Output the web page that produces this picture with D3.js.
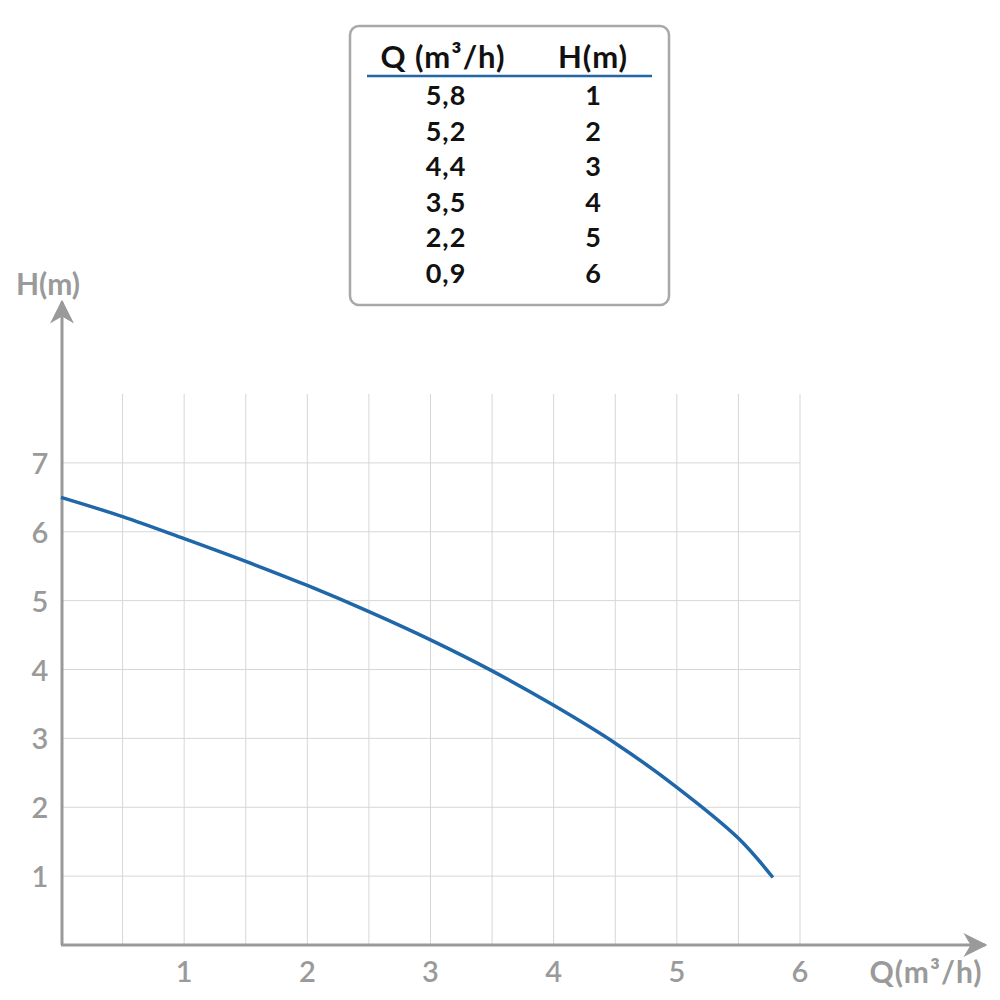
<!DOCTYPE html>
<html><head><meta charset="utf-8">
<script src="https://cdn.jsdelivr.net/npm/d3@7"></script>
<style>body{margin:0;background:#fff}</style></head>
<body><svg id="c" width="1000" height="1000"></svg>
<script>
const curveQ = [0, 0.5, 1, 1.5, 2, 2.5, 3, 3.5, 4, 4.5, 5, 5.5, 5.78];
const curveH = [6.5, 6.22, 5.9, 5.57, 5.22, 4.84, 4.43, 3.98, 3.48, 2.93, 2.29, 1.55, 0.98];
const tableQ = ["5,8","5,2","4,4","3,5","2,2","0,9"];
const tableH = ["1","2","3","4","5","6"];
const xTicks = [1,2,3,4,5,6];
const yTicks = [1,2,3,4,5,6,7];

const svg = d3.select("#c");
const x = d3.scaleLinear().domain([0,6]).range([61,800]);
const y = d3.scaleLinear().domain([0,8]).range([945,394]);
const font = "Lato, 'DejaVu Sans', sans-serif";
const grey = "#9a9a9a";

const vg = d3.range(0.5,6.01,0.5);
svg.append("g").selectAll("line").data(vg).join("line")
 .attr("x1",d=>x(d)).attr("x2",d=>x(d)).attr("y1",y(8)).attr("y2",y(0))
 .attr("stroke","#d6d6d6").attr("stroke-width",1);
svg.append("g").selectAll("line").data(yTicks).join("line")
 .attr("x1",x(0)).attr("x2",x(6)).attr("y1",d=>y(d)).attr("y2",d=>y(d))
 .attr("stroke","#d6d6d6").attr("stroke-width",1);

const defs = svg.append("defs");
defs.append("marker").attr("id","ar").attr("viewBox","0 0 10 10").attr("refX",9).attr("refY",5)
 .attr("markerWidth",24).attr("markerHeight",24).attr("markerUnits","userSpaceOnUse").attr("orient","auto")
 .append("path").attr("d","M0,0 L10,5 L0,10 L3,5 Z").attr("fill",grey);
svg.append("line").attr("x1",x(0)).attr("y1",y(0)).attr("x2",985).attr("y2",y(0))
 .attr("stroke",grey).attr("stroke-width",3).attr("marker-end","url(#ar)");
svg.append("line").attr("x1",x(0)+1).attr("y1",y(0)).attr("x2",x(0)+1).attr("y2",302)
 .attr("stroke",grey).attr("stroke-width",3).attr("marker-end","url(#ar)");

svg.append("g").selectAll("text").data(xTicks).join("text")
 .attr("x",d=>x(d)).attr("y",982).attr("text-anchor","middle")
 .attr("font-family",font).attr("font-size",29).attr("font-weight",600).attr("fill",grey).text(d=>d);
svg.append("g").selectAll("text").data(yTicks).join("text")
 .attr("x",40).attr("y",d=>y(d)+11).attr("text-anchor","middle")
 .attr("font-family",font).attr("font-size",29).attr("font-weight",600).attr("fill",grey).text(d=>d);
svg.append("text").attr("x",48).attr("y",295).attr("text-anchor","middle")
 .attr("font-family",font).attr("font-size",30).attr("font-weight","bold").attr("fill",grey).text("H(m)");
svg.append("text").attr("x",926).attr("y",983).attr("text-anchor","middle")
 .attr("font-family",font).attr("font-size",30).attr("font-weight","bold").attr("fill",grey)
 .attr("letter-spacing",1).text("Q(m³/h)");

const pts = curveQ.map((q,i)=>[q,curveH[i]]);
svg.append("path").datum(pts)
 .attr("d",d3.line().x(d=>x(d[0])).y(d=>y(d[1])).curve(d3.curveCatmullRom))
 .attr("fill","none").attr("stroke","#1f67a8").attr("stroke-width",3.5);

svg.append("rect").attr("x",350).attr("y",26).attr("width",319).attr("height",279).attr("rx",9)
 .attr("fill","#fff").attr("stroke","#a8a8a8").attr("stroke-width",2.5);
svg.append("text").attr("x",443).attr("y",68).attr("text-anchor","middle").attr("font-family",font)
 .attr("font-size",31).attr("font-weight","bold").attr("fill","#111").attr("letter-spacing",1).text("Q (m³/h)");
svg.append("text").attr("x",593).attr("y",68).attr("text-anchor","middle").attr("font-family",font)
 .attr("font-size",31).attr("font-weight","bold").attr("fill","#111").attr("letter-spacing",1).text("H(m)");
svg.append("line").attr("x1",367).attr("x2",652).attr("y1",76).attr("y2",76)
 .attr("stroke","#1f67a8").attr("stroke-width",2.5);
const rowY = i => 105 + i*35.6;
svg.append("g").selectAll("text").data(tableQ).join("text")
 .attr("x",446).attr("y",(d,i)=>rowY(i)).attr("text-anchor","middle").attr("font-family",font)
 .attr("font-size",27).attr("font-weight","bold").attr("fill","#111").attr("letter-spacing",1).text(d=>d);
svg.append("g").selectAll("text").data(tableH).join("text")
 .attr("x",593).attr("y",(d,i)=>rowY(i)).attr("text-anchor","middle").attr("font-family",font)
 .attr("font-size",27).attr("font-weight","bold").attr("fill","#111").text(d=>d);
</script></body></html>
